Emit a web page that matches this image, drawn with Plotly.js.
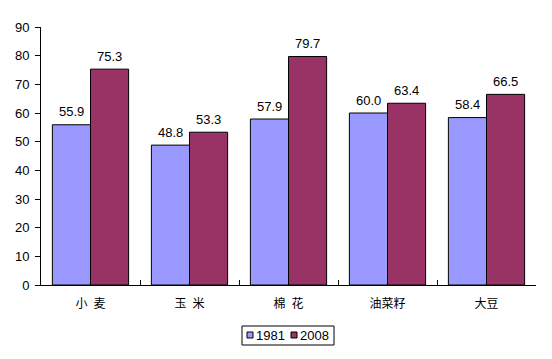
<!DOCTYPE html>
<html><head><meta charset="utf-8">
<script src="https://cdn.plot.ly/plotly-3.0.1.min.js"></script>
<style>body{margin:0;background:#fff}#c{width:552px;height:359px}</style>
</head><body><div id="c"></div>
<script>
const categories = ["小\u2002麦", "玉\u2002米", "棉\u2002花", "油菜籽", "大豆"];
const seriesNames = ["1981", "2008"];
const values1981 = [55.9, 48.8, 57.9, 60.0, 58.4];
const values2008 = [75.3, 53.3, 79.7, 63.4, 66.5];
const yTicks = [0, 10, 20, 30, 40, 50, 60, 70, 80, 90];
const colors = ["#9999FF", "#993366"];

const font = {family: "Liberation Sans, Arial, sans-serif", size: 13, color: "#000"};
function mk(name, vals, color) {
  return {
    type: "bar", name: name, x: categories, y: vals,
    marker: {color: color, line: {color: "#000", width: 1}},
    hoverinfo: "skip"
  };
}
const series = [values1981, values2008];
const data = series.map((v, i) => mk(seriesNames[i], v, colors[i]));

// custom compact legend (paper coords, figure is 552x359, plot area 41..536 x 27..285)
const W = 495, H = 258, L = 41, T = 27;
const px = x => (x - L) / W;
const py = y => 1 - (y - T) / H;
const shapes = [{type: "rect", xref: "paper", yref: "paper", x0: px(242), x1: px(334), y0: py(326), y1: py(345),
  line: {color: "#000", width: 1}, fillcolor: "#fff"}];
const annotations = [];
const sqX = [247, 291], txX = [254, 298];
seriesNames.forEach((n, i) => {
  shapes.push({type: "rect", xref: "paper", yref: "paper", x0: px(sqX[i]), x1: px(sqX[i] + 6), y0: py(332), y1: py(338),
    line: {color: "#000", width: 1}, fillcolor: colors[i]});
  annotations.push({xref: "paper", yref: "paper", x: px(txX[i]), y: py(335.5), xanchor: "left", yanchor: "middle",
    text: n, showarrow: false, font: font});
});
// value labels above bars
series.forEach((vals, i) => {
  vals.forEach((v, j) => {
    annotations.push({x: categories[j], y: v, xref: "x", yref: "y", xshift: i === 0 ? -19 : 19, yshift: 13,
      yanchor: "middle", xanchor: "center", text: v.toFixed(1), showarrow: false, font: font});
  });
});

const layout = {
  width: 552, height: 359,
  margin: {l: 41, r: 16, t: 27, b: 74, autoexpand: false},
  paper_bgcolor: "#fff", plot_bgcolor: "#fff",
  font: font,
  bargap: 0.23, bargroupgap: 0,
  showlegend: false,
  shapes: shapes, annotations: annotations,
  xaxis: {
    type: "category", showline: true, linecolor: "#000", linewidth: 1,
    ticks: "inside", tickson: "boundaries", ticklen: 5, tickcolor: "#000",
    showgrid: false, zeroline: false, ticklabelstandoff: 8,
    tickfont: {family: "'Noto Sans CJK SC', sans-serif", size: 12, color: "#000"}
  },
  yaxis: {
    range: [0, 90], tickvals: yTicks, ticktext: yTicks.map(String),
    showline: true, linecolor: "#000", linewidth: 1,
    ticks: "outside", ticklen: 5, tickcolor: "#000", ticklabelstandoff: 3,
    showgrid: false, zeroline: false, tickfont: font
  }
};
Plotly.newPlot("c", data, layout, {staticPlot: true});
</script></body></html>
